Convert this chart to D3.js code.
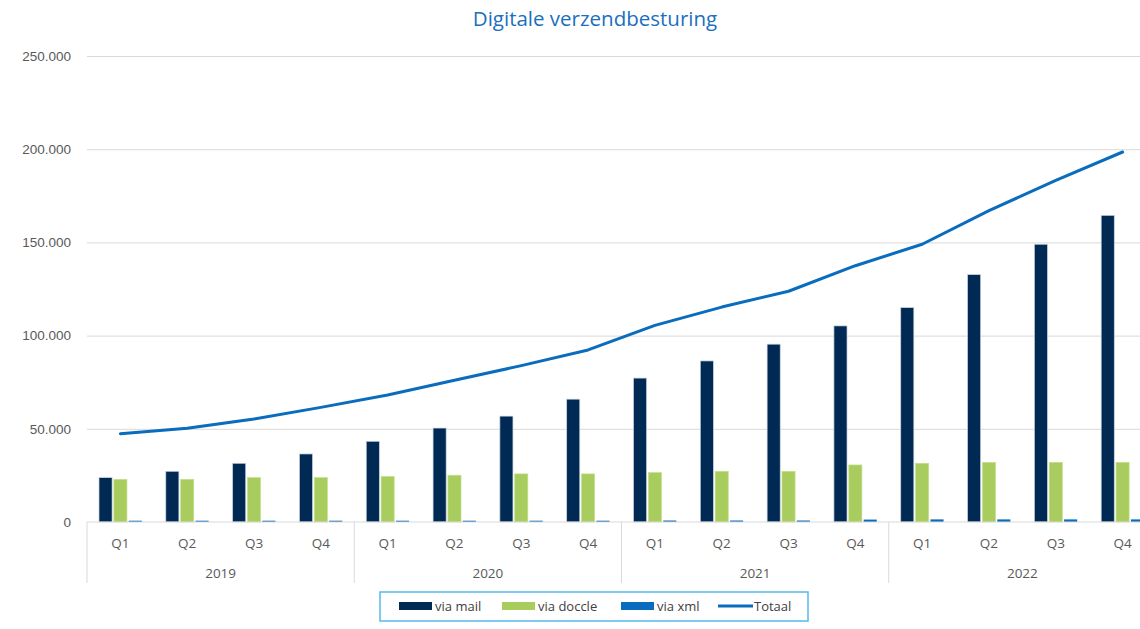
<!DOCTYPE html>
<html>
<head>
<meta charset="utf-8">
<title>Digitale verzendbesturing</title>
<script src="https://d3js.org/d3.v7.min.js"></script>
<style>
  body { margin: 0; background: #fff; }
  svg { display: block; font-family: "Open Sans", "Noto Sans", sans-serif; }
</style>
</head>
<body>
<svg width="1140" height="629"></svg>
<script>
// ---- data ----
const years = ["2019", "2020", "2021", "2022"];
const quarters = ["Q1", "Q2", "Q3", "Q4"];
const seriesNames = ["via mail", "via doccle", "via xml"];
const viaMail   = [23800, 27200, 31500, 36500, 43300, 50400, 56800, 65900, 77200, 86400, 95400, 105200, 115000, 132700, 149000, 164500];
const viaDoccle = [22900, 22900, 23800, 23800, 24400, 25100, 25800, 25800, 26500, 27200, 27200, 30600, 31500, 32000, 32000, 32000];
const viaXml    = [700, 700, 700, 700, 700, 700, 700, 700, 800, 800, 800, 1300, 1400, 1400, 1400, 1400];
const totaal    = [47400, 50300, 55300, 61500, 68100, 76000, 83900, 92300, 105500, 115300, 123800, 137500, 149000, 167000, 183300, 198500];
const yTicks = [0, 50000, 100000, 150000, 200000, 250000];

const colors = { "via mail": "#002a54", "via doccle": "#a9cc5e", "via xml": "#0a6cbc", "Totaal": "#0a6cbc" };

const svg = d3.select("svg");
const width = +svg.attr("width");
const height = +svg.attr("height");

const plot = { left: 87, right: 1156, top: 56, bottom: 522 };

// one key per quarter
const keys = [];
years.forEach(y => quarters.forEach(q => keys.push(y + " " + q)));

const rows = keys.map((k, i) => ({
  key: k, year: k.split(" ")[0], quarter: k.split(" ")[1],
  "via mail": viaMail[i], "via doccle": viaDoccle[i], "via xml": viaXml[i], total: totaal[i]
}));

const x = d3.scaleBand().domain(keys).range([plot.left, plot.right]).padding(0);
const xInner = d3.scaleBand().domain(seriesNames).range([12, x.bandwidth() - 12]).paddingInner(0.12);
const y = d3.scaleLinear().domain([0, 250000]).range([plot.bottom, plot.top]);

const nl = d3.formatLocale({ decimal: ",", thousands: ".", grouping: [3], currency: ["€", ""] });
const fmt = nl.format(",d");

// title
svg.append("text")
  .attr("x", 595).attr("y", 26)
  .attr("text-anchor", "middle")
  .attr("fill", "#1a6fbe")
  .style("font-size", "20.5px")
  .text("Digitale verzendbesturing");

// gridlines + y labels
const yAxis = svg.append("g")
  .attr("transform", `translate(${plot.left},0)`)
  .call(d3.axisLeft(y).tickValues(yTicks).tickFormat(fmt).tickSize(-(width - plot.left)).tickPadding(16));
yAxis.select(".domain").remove();
yAxis.selectAll(".tick line").attr("stroke", "#d9d9d9").attr("stroke-width", 1);
yAxis.selectAll(".tick text").attr("fill", "#595959").style("font-size", "13.5px");
yAxis.selectAll(".tick").filter(d => d === 0).select("line").remove();

// bars
const groups = svg.append("g").selectAll("g")
  .data(rows).join("g")
  .attr("transform", d => `translate(${x(d.key)},0)`);

groups.selectAll("rect")
  .data(d => seriesNames.map(s => ({ s, v: d[s] })))
  .join("rect")
  .attr("x", d => xInner(d.s))
  .attr("width", xInner.bandwidth())
  .attr("y", d => y(d.v))
  .attr("height", d => y(0) - y(d.v))
  .attr("fill", d => colors[d.s])
  .attr("stroke", d => d.s === "via mail" ? "#c9d3df" : (d.s === "via doccle" ? "#c4e08a" : "none"))
  .attr("stroke-width", 0.7);

// total line
const line = d3.line()
  .x(d => x(d.key) + x.bandwidth() / 2)
  .y(d => y(d.total));

svg.append("path")
  .datum(rows)
  .attr("d", line)
  .attr("fill", "none")
  .attr("stroke", colors["Totaal"])
  .attr("stroke-width", 3)
  .attr("stroke-linejoin", "round")
  .attr("stroke-linecap", "round");

// category axis (two levels)
const axisG = svg.append("g");
axisG.append("line")
  .attr("x1", plot.left).attr("x2", width)
  .attr("y1", plot.bottom).attr("y2", plot.bottom)
  .attr("stroke", "#d9d9d9");

years.forEach((yr, i) => {
  const x0 = x(yr + " Q1");
  axisG.append("line")
    .attr("x1", x0).attr("x2", x0)
    .attr("y1", plot.bottom).attr("y2", 583)
    .attr("stroke", "#d9d9d9");
  axisG.append("text")
    .attr("x", x0 + x.bandwidth() * 2)
    .attr("y", 578)
    .attr("text-anchor", "middle")
    .attr("fill", "#595959")
    .style("font-size", "13.5px")
    .text(yr);
});
axisG.append("line")
  .attr("x1", plot.right).attr("x2", plot.right)
  .attr("y1", plot.bottom).attr("y2", 583)
  .attr("stroke", "#d9d9d9");

axisG.selectAll(".q")
  .data(rows).join("text")
  .attr("x", d => x(d.key) + x.bandwidth() / 2)
  .attr("y", 548)
  .attr("text-anchor", "middle")
  .attr("fill", "#595959")
  .style("font-size", "13.5px")
  .text(d => d.quarter);

// legend
const legend = svg.append("g");
legend.append("rect")
  .attr("x", 380).attr("y", 592)
  .attr("width", 428).attr("height", 29)
  .attr("fill", "#fff")
  .attr("stroke", "#55b9ef")
  .attr("stroke-width", 1.5);

const legendItems = [
  { name: "via mail", x: 399, type: "bar" },
  { name: "via doccle", x: 502, type: "bar" },
  { name: "via xml", x: 621, type: "bar" },
  { name: "Totaal", x: 718, type: "line" }
];

legendItems.forEach(it => {
  if (it.type === "bar") {
    legend.append("rect")
      .attr("x", it.x).attr("y", 602)
      .attr("width", 33).attr("height", 8)
      .attr("fill", colors[it.name]);
  } else {
    legend.append("line")
      .attr("x1", it.x).attr("x2", it.x + 35)
      .attr("y1", 606).attr("y2", 606)
      .attr("stroke", colors[it.name])
      .attr("stroke-width", 3);
  }
  legend.append("text")
    .attr("x", it.x + 36).attr("y", 611)
    .attr("fill", "#404040")
    .style("font-size", "13px")
    .text(it.name);
});
</script>
</body>
</html>
